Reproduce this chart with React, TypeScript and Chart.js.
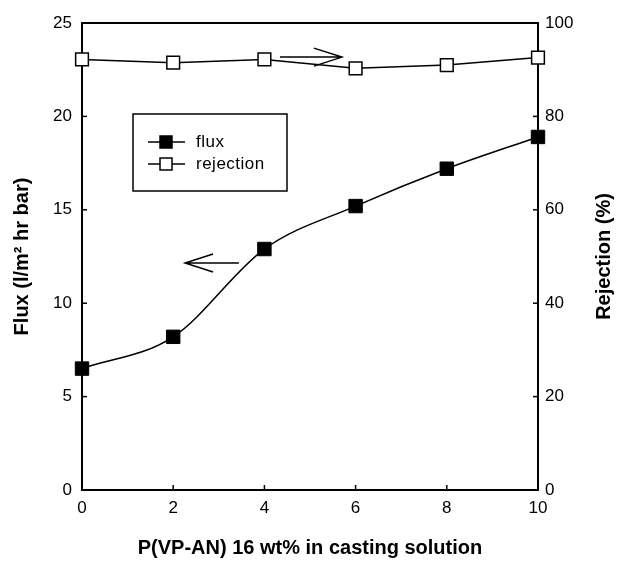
import React, { useEffect, useRef } from "react";
import { Chart, registerables } from "chart.js";

Chart.register(...registerables);

// ---- data ----
const xValues = [0, 2, 4, 6, 8, 10];
const fluxValues = [6.5, 8.2, 12.9, 15.2, 17.2, 18.9];
const rejectionValues = [92.2, 91.5, 92.2, 90.3, 91.0, 92.6];
const seriesLabels = ["flux", "rejection"];
const xTitle = "P(VP-AN) 16 wt% in casting solution";
const yTitle = "Flux (l/m\u00B2 hr bar)";
const y1Title = "Rejection (%)";

// arrow annotations in data units
const fluxArrow = { from: 3.44, to: 2.26, y: 12.15 };
const rejectionArrow = { from: 4.34, to: 5.7, y: 92.7 };

const INK = "#000";
const FONT = "'Liberation Sans', Arial, Helvetica, sans-serif";

function drawArrow(ctx: CanvasRenderingContext2D, x1: number, y1: number, x2: number, y2: number) {
  const dir = Math.sign(x2 - x1) || 1;
  ctx.beginPath();
  ctx.moveTo(x1, y1);
  ctx.lineTo(x2, y2);
  ctx.moveTo(x2 - dir * 28, y2 - 9);
  ctx.lineTo(x2, y2);
  ctx.lineTo(x2 - dir * 28, y2 + 9);
  ctx.stroke();
}

const decorPlugin = {
  id: "decor",
  beforeDatasetsDraw(chart: any) {
    const { ctx, chartArea: a } = chart;
    ctx.save();
    ctx.strokeStyle = INK;
    ctx.lineWidth = 2;
    ctx.strokeRect(a.left, a.top, a.right - a.left, a.bottom - a.top);
    ctx.lineWidth = 1.5;
    const len = 5;
    const sx = chart.scales.x;
    sx.ticks.forEach((t: any) => {
      if (t.value <= sx.min || t.value >= sx.max) return;
      const p = sx.getPixelForValue(t.value);
      ctx.beginPath();
      ctx.moveTo(p, a.bottom);
      ctx.lineTo(p, a.bottom - len);
      ctx.stroke();
    });
    const sy = chart.scales.y;
    sy.ticks.forEach((t: any) => {
      if (t.value <= sy.min || t.value >= sy.max) return;
      const p = sy.getPixelForValue(t.value);
      ctx.beginPath();
      ctx.moveTo(a.left, p);
      ctx.lineTo(a.left + len, p);
      ctx.stroke();
    });
    const sy1 = chart.scales.y1;
    sy1.ticks.forEach((t: any) => {
      if (t.value <= sy1.min || t.value >= sy1.max) return;
      const p = sy1.getPixelForValue(t.value);
      ctx.beginPath();
      ctx.moveTo(a.right, p);
      ctx.lineTo(a.right - len, p);
      ctx.stroke();
    });
    ctx.restore();
  },
  afterDraw(chart: any) {
    const { ctx, chartArea: a } = chart;
    const sx = chart.scales.x;
    const sy = chart.scales.y;
    const sy1 = chart.scales.y1;
    ctx.save();
    ctx.strokeStyle = INK;
    ctx.fillStyle = INK;

    // arrows
    ctx.lineWidth = 1.5;
    drawArrow(
      ctx,
      sx.getPixelForValue(fluxArrow.from),
      sy.getPixelForValue(fluxArrow.y),
      sx.getPixelForValue(fluxArrow.to),
      sy.getPixelForValue(fluxArrow.y)
    );
    drawArrow(
      ctx,
      sx.getPixelForValue(rejectionArrow.from),
      sy1.getPixelForValue(rejectionArrow.y),
      sx.getPixelForValue(rejectionArrow.to),
      sy1.getPixelForValue(rejectionArrow.y)
    );

    // legend
    const bx = a.left + 51;
    const by = a.top + 91;
    const bw = 154;
    const bh = 77;
    ctx.lineWidth = 1.5;
    ctx.strokeRect(bx, by, bw, bh);
    const rows = [by + 28, by + 50];
    chart.data.datasets.forEach((ds: any, i: number) => {
      const ry = rows[i];
      ctx.lineWidth = 1.5;
      ctx.strokeStyle = INK;
      ctx.beginPath();
      ctx.moveTo(bx + 15, ry);
      ctx.lineTo(bx + 52, ry);
      ctx.stroke();
      const s = 12;
      ctx.fillStyle = ds.pointBackgroundColor;
      ctx.fillRect(bx + 33 - s / 2, ry - s / 2, s, s);
      ctx.strokeRect(bx + 33 - s / 2, ry - s / 2, s, s);
      ctx.fillStyle = INK;
      ctx.font = `17px ${FONT}`;
      (ctx as any).letterSpacing = "0.5px";
      ctx.textAlign = "left";
      ctx.textBaseline = "middle";
      ctx.fillText(ds.label, bx + 63, ry);
      (ctx as any).letterSpacing = "0px";
    });

    // right axis title (reads bottom-to-top)
    ctx.font = `bold 20px ${FONT}`;
    ctx.textAlign = "center";
    ctx.textBaseline = "middle";
    ctx.translate(604, (a.top + a.bottom) / 2);
    ctx.rotate(-Math.PI / 2);
    ctx.fillText(y1Title, 0, 0);
    ctx.restore();
  },
};

export default function App() {
  const ref = useRef<HTMLCanvasElement>(null);
  useEffect(() => {
    if (!ref.current) return;
    const tickFont = { family: FONT, size: 17 };
    const titleFont = { family: FONT, size: 20, weight: "bold" as const };
    const chart = new Chart(ref.current, {
      type: "line",
      data: {
        datasets: [
          {
            label: seriesLabels[0],
            data: xValues.map((x, i) => ({ x, y: fluxValues[i] })),
            yAxisID: "y",
            borderColor: INK,
            borderWidth: 1.5,
            pointStyle: "rect",
            pointRadius: 9.5,
            pointBackgroundColor: INK,
            pointBorderColor: INK,
            pointBorderWidth: 1,
            cubicInterpolationMode: "monotone",
            clip: false,
          },
          {
            label: seriesLabels[1],
            data: xValues.map((x, i) => ({ x, y: rejectionValues[i] })),
            yAxisID: "y1",
            borderColor: INK,
            borderWidth: 1.5,
            pointStyle: "rect",
            pointRadius: 9,
            pointBackgroundColor: "#fff",
            pointBorderColor: INK,
            pointBorderWidth: 1.5,
            tension: 0,
            clip: false,
          },
        ],
      },
      options: {
        responsive: false,
        animation: false,
        devicePixelRatio: 1,
        layout: { padding: { top: 23, left: 0, right: 0, bottom: 0 } },
        plugins: { legend: { display: false }, tooltip: { enabled: false } },
        scales: {
          x: {
            type: "linear",
            min: 0,
            max: 10,
            ticks: { stepSize: 2, font: tickFont, color: INK, padding: 8 },
            grid: { display: false, drawTicks: false },
            border: { display: false },
            title: { display: true, text: xTitle, font: titleFont, color: INK, padding: { top: 0, bottom: 2 } },
            afterFit: (s: any) => {
              s.height = 72;
            },
          },
          y: {
            type: "linear",
            position: "left",
            min: 0,
            max: 25,
            ticks: { stepSize: 5, font: tickFont, color: INK, padding: 10 },
            grid: { display: false, drawTicks: false },
            border: { display: false },
            title: { display: true, text: yTitle, font: titleFont, color: INK, padding: { top: 10, bottom: 0 } },
            afterFit: (s: any) => {
              s.width = 82;
            },
          },
          y1: {
            type: "linear",
            position: "right",
            min: 0,
            max: 100,
            ticks: { stepSize: 20, font: tickFont, color: INK, padding: 7 },
            grid: { display: false, drawTicks: false },
            border: { display: false },
            title: { display: false },
            afterFit: (s: any) => {
              s.width = 82;
            },
          },
        },
      },
      plugins: [decorPlugin],
    });
    return () => chart.destroy();
  }, []);
  return (
    <div style={{ position: "fixed", left: 0, top: 0, width: 620, height: 562, background: "#fff" }}>
      <canvas ref={ref} width={620} height={562} style={{ display: "block" }} />
    </div>
  );
}
